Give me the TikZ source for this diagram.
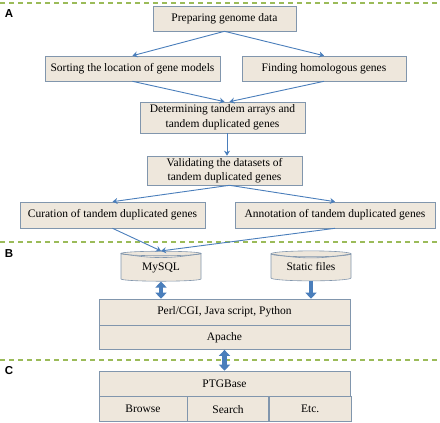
\documentclass[tikz,border=0pt]{standalone}
\usepackage{fontspec}
\setmainfont{Liberation Serif}
\newfontfamily\labelfont{Liberation Sans}
\usetikzlibrary{arrows.meta,shapes.geometric}
\definecolor{boxfill}{HTML}{EEE7DC}
\definecolor{boxline}{HTML}{8196AD}
\definecolor{flowblue}{HTML}{4A7EBB}
\definecolor{sepgreen}{HTML}{9BBB59}
\tikzset{arrow/.style={->, >={Stealth[length=5pt,width=6pt]}, draw=flowblue, line width=0.9pt}}
\tikzset{stepbox/.style={draw=boxline, fill=boxfill, line width=0.6pt, font=\fontsize{11.5}{14.5}\selectfont, align=center, inner sep=0pt}}
\tikzset{dbase/.style={stepbox, cylinder, shape border rotate=90, aspect=0.12, minimum width=80pt, minimum height=30pt, text height=8pt, text depth=2pt}}
\tikzset{dbtop/.style={draw=boxline, line width=0.6pt}}
\tikzset{fatarrow/.style={draw=flowblue, line width=4.5pt, -{Triangle[length=6pt,width=11pt]}}}
\tikzset{fatboth/.style={draw=flowblue, line width=4.5pt, {Triangle[length=6pt,width=11pt]}-{Triangle[length=6pt,width=11pt]}}}
\tikzset{separator/.style={draw=sepgreen, line width=1.3pt, dash pattern=on 5pt off 4pt}}
\tikzset{part/.style={font=\labelfont\bfseries\fontsize{11.5}{12}\selectfont}}

\begin{document}
\begin{tikzpicture}[x=1pt, y=-1pt]
      \useasboundingbox (0,0) rectangle (440,423);

      % separators
      \draw[separator] (0,3) -- (440,3);
      \draw[separator] (0,242) -- (440,242);
      \draw[separator] (0,360) -- (440,360);
      \node[part] (partA) at (9,14) {A};
      \node[part] (partB) at (9,254) {B};
      \node[part] (partC) at (9,371) {C};

      % A: pipeline
      \node[stepbox, minimum width=143pt, minimum height=25pt] (prep) at (224.5, 18.5) {Preparing genome data};
      \node[stepbox, minimum width=175pt, minimum height=25pt] (sort) at (132.5, 68.5) {Sorting the location of gene models};
      \node[stepbox, minimum width=164pt, minimum height=25pt] (homo) at (324, 68.5) {Finding homologous genes};
      \node[stepbox, minimum width=165pt, minimum height=31pt] (tandem) at (222.5, 117.5) {Determining tandem arrays and\\tandem duplicated genes};
      \node[stepbox, minimum width=155pt, minimum height=29pt] (valid) at (224.5, 170.5) {Validating the datasets of\\tandem duplicated genes};
      \node[stepbox, minimum width=185pt, minimum height=26pt] (curate) at (112.5, 215) {Curation of tandem duplicated genes};
      \node[stepbox, minimum width=200pt, minimum height=26pt] (annot) at (335, 215) {Annotation of tandem duplicated genes};

      \draw[arrow] (prep.south) -- (sort.north);
      \draw[arrow] (prep.south) -- (homo.north);
      \draw[arrow] (sort.south) -- ([xshift=2pt]tandem.north);
      \draw[arrow] (homo.south) -- ([xshift=7pt]tandem.north);
      \draw[arrow] ([xshift=4.5pt]tandem.south) -- ([xshift=2.5pt]valid.north);
      \draw[arrow] ([xshift=5pt]valid.south) -- (curate.north);
      \draw[arrow] ([xshift=5pt]valid.south) -- (annot.north);

      % B: storage and server
      \node[dbase] (mysql) at (161, 267.5) {MySQL};
      \node[dbase] (static) at (311, 267.5) {Static files};
      \draw[dbtop] (mysql.before top) to[bend right=10] (mysql.after top);
      \draw[dbtop] (static.before top) to[bend right=10] (static.after top);
      \node[stepbox, minimum width=251pt, minimum height=26pt] (perl) at (224.5, 312) {Perl/CGI, Java script, Python};
      \node[stepbox, minimum width=251pt, minimum height=24pt, anchor=north] (apache) at (perl.south) {Apache};

      \draw[arrow] (curate.south) -- (mysql.north);
      \draw[arrow] (annot.south) -- (mysql.north);
      \draw[fatboth] (mysql.south) -- (mysql.south |- perl.north);
      \draw[fatarrow] (static.south) -- (static.south |- perl.north);

      % C: web interface
      \node[stepbox, minimum width=251pt, minimum height=25pt] (ptg) at (224.5, 383.5) {PTGBase};
      \node[stepbox, minimum width=88pt, minimum height=25pt, anchor=north west] (browse) at (ptg.south west) {Browse};
      \node[stepbox, minimum width=81pt, minimum height=25pt, anchor=north west] (search) at (browse.north east) {Search};
      \node[stepbox, minimum width=82pt, minimum height=25pt, anchor=north west] (etc) at (search.north east) {Etc.};

      \draw[fatboth] (apache.south) -- (ptg.north);
\end{tikzpicture}
\end{document}
